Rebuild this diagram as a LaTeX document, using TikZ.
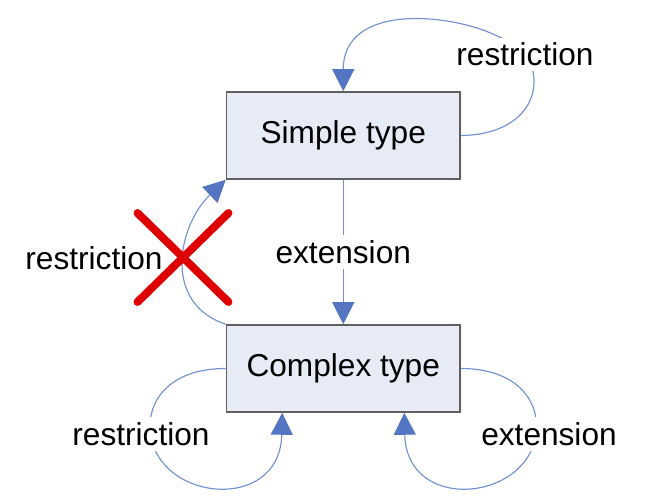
\documentclass[tikz,border=0pt]{standalone}
\usepackage{fontspec}
\setmainfont{Liberation Sans}
\usetikzlibrary{arrows.meta,calc}
\definecolor{boxfill}{RGB}{231,235,245}
\definecolor{boxline}{RGB}{95,95,95}
\definecolor{linkblue}{RGB}{115,145,208}
\definecolor{headblue}{RGB}{84,117,193}
\definecolor{crossred}{RGB}{222,0,0}

\begin{document}
\begin{tikzpicture}[
		every node/.style={font=\fontsize{18}{21}\selectfont},
		typebox/.style={draw=boxline, line width=0.9pt, fill=boxfill, minimum width=4.67cm, minimum height=1.74cm, inner sep=0pt},
		derive/.style={draw=linkblue, line width=0.65pt, -{Triangle[length=12.5pt,width=12.5pt,color=headblue,fill=headblue]}},
		lbl/.style={fill=white, inner sep=3pt},
		crossline/.style={draw=crossred, line width=4.5pt, line cap=round}
	]
		\useasboundingbox (0,0) rectangle (13,10.02);

		\node[typebox] (simple) at (6.865,7.31) {Simple type};
		\node[typebox] (complex) at (6.865,2.65) {Complex type};

		% simple -> simple
		\draw[derive] (simple.east) .. controls ($(simple.east)+(0.8,0)$) and (10.68,7.7) .. (10.68,8.4)
				.. controls (10.68,8.9) and (10.3,9.15) .. (9.9,9.32)
				.. controls (9.0,9.75) and ($(simple.north)+(0,1.77)$) .. (simple.north);
		\node[lbl] (restrTop) at (10.5,8.93) {restriction};

		% simple -> complex
		\draw[derive] (simple) -- (complex) node[midway, lbl] (extMid) {extension};

		% complex -> simple, not allowed
		\draw[derive] (complex.north west) .. controls (3.25,3.95) and (3.55,5.5) .. (simple.south west);
		\node (restrLeft) at (1.88,4.86) {restriction};
		\coordinate (cross) at (3.66,4.87);
		\draw[crossline] ($(cross)+(-0.91,0.89)$) -- ($(cross)+(0.91,-0.89)$);
		\draw[crossline] ($(cross)+(-0.91,-0.89)$) -- ($(cross)+(0.91,0.89)$);

		% complex -> complex
		\draw[derive] (complex.west) .. controls ($(complex.west)+(-1.03,0)$) and (3.0,2.1) .. (3.0,1.5)
				.. controls (3.0,0.0) and (5.6,-0.3) .. ($(complex.south west)+(1.13,0)$);
		\node[lbl] (restrLow) at (2.82,1.34) {restriction};
		\draw[derive] (complex.east) .. controls ($(complex.east)+(1.03,0)$) and (10.73,2.1) .. (10.73,1.5)
				.. controls (10.73,0.0) and (8.13,-0.3) .. ($(complex.south east)+(-1.13,0)$);
		\node[lbl] (extLow) at (10.98,1.34) {extension};
	\end{tikzpicture}
\end{document}
